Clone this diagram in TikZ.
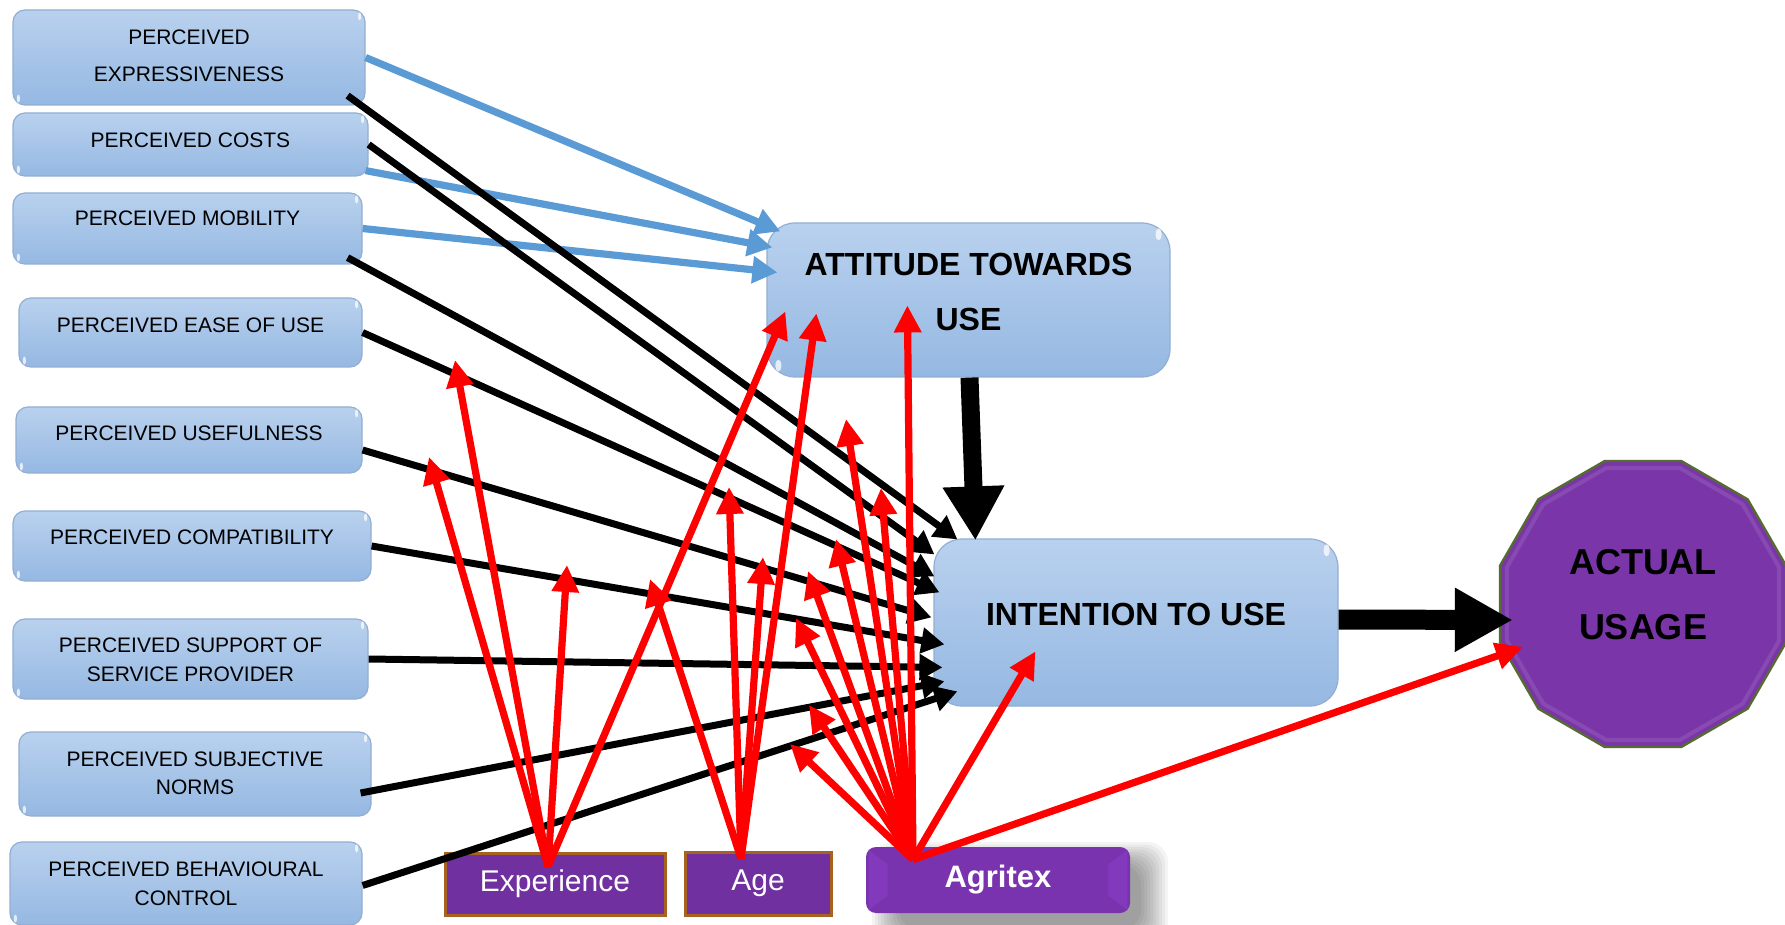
\documentclass[tikz,border=0pt]{standalone}
\usepackage{fontspec}
\setmainfont{Liberation Sans}
\usetikzlibrary{arrows.meta,shapes.geometric,calc}

\definecolor{boxtop}{HTML}{B9D1EE}
\definecolor{boxbot}{HTML}{95B8E2}
\definecolor{boxline}{HTML}{93AED3}
\definecolor{arrblue}{HTML}{5B9BD5}
\definecolor{modfill}{HTML}{7030A0}
\definecolor{modborder}{HTML}{A8621F}
\definecolor{agtop}{HTML}{C562FF}
\definecolor{agmid}{HTML}{7A33AE}
\definecolor{agbot}{HTML}{A04CE4}
\definecolor{agend}{HTML}{8A3EC6}
\definecolor{usefill}{HTML}{7A36A9}
\definecolor{useline}{HTML}{556B2F}

\pgfdeclareverticalshading{agritexshade}{100bp}{%
  color(0bp)=(agbot); color(12bp)=(agmid); color(80bp)=(agmid); color(100bp)=(agtop)}

\tikzset{
  pbox/.style={draw=boxline, line width=0.6pt, rounded corners=6pt,
    top color=boxtop, bottom color=boxbot, inner sep=0pt},
  bigbox/.style={pbox, rounded corners=14pt},
  plabel/.style={font=\fontsize{10.5}{14.25}\selectfont, align=center, inner sep=0pt},
  biglabel/.style={font=\fontsize{16}{27.5}\selectfont\bfseries, align=center, inner sep=0pt},
  bluearr/.style={draw=arrblue, line width=3.6pt, -{Triangle[length=12.5pt,width=13pt]}},
  blkarr/.style={draw=black, line width=3.5pt, -{Triangle[length=11.5pt,width=12.5pt]}},
  redarr/.style={draw=red, line width=3.6pt, -{Triangle[length=13.5pt,width=13pt]}},
  modbox/.style={draw=modborder, line width=1.5pt, fill=modfill, text=white,
    font=\fontsize{15}{18}\selectfont, inner sep=0pt},
  glint/.style={fill=white, opacity=0.75},
}

% rounded blue box given its corners in pixel units
\newcommand\leftbox[5]{%
  \pgfmathsetmacro\pbW{(#4-#2)*0.5}%
  \pgfmathsetmacro\pbH{(#5-#3)*0.5}%
  \node[pbox, minimum width=\pbW pt, minimum height=\pbH pt] (#1) at ({(#2+#4)/2},{(#3+#5)/2}) {};
  \fill[glint] ($(#1.north east)+(-6,7)$) ellipse [x radius=1.6, y radius=4];
  \fill[glint] ($(#1.south west)+(6,-7)$) ellipse [x radius=1.6, y radius=4];
}

\begin{document}
\begin{tikzpicture}[x=0.5pt,y=-0.5pt]
\useasboundingbox (0,0) rectangle (1785,925);
\fill[white] (0,0) rectangle (1785,925);

% --- determinant boxes
\leftbox{expr}{13}{10}{365}{105}
\leftbox{costs}{13}{113}{368}{176}
\leftbox{mob}{13}{193}{362}{264}
\leftbox{ease}{19}{298}{362}{367}
\leftbox{useful}{16}{407}{362}{473}
\leftbox{compat}{13}{511}{371}{581}
\leftbox{support}{13}{619}{368}{699}
\leftbox{norms}{19}{732}{371}{816}
\leftbox{behav}{10}{842}{362}{925}

\node[plabel, font=\fontsize{10.5}{18.2}\selectfont] (expr-t) at ($(expr)+(0,-1.7)$) {PERCEIVED\\EXPRESSIVENESS};
\node[plabel] (costs-t) at ($(costs)+(0,-4.5)$) {PERCEIVED COSTS};
\node[plabel] (mob-t) at ($(mob)+(0,-10)$) {PERCEIVED MOBILITY};
\node[plabel] (ease-t) at ($(ease)+(0,-7)$) {PERCEIVED EASE OF USE};
\node[plabel] (useful-t) at ($(useful)+(0,-6.3)$) {PERCEIVED USEFULNESS};
\node[plabel] (compat-t) at ($(compat)+(0,-9)$) {PERCEIVED COMPATIBILITY};
\node[plabel] (support-t) at ($(support)+(0,0.8)$) {PERCEIVED SUPPORT OF\\SERVICE PROVIDER};
\node[plabel] (norms-t) at ($(norms)+(0,-0.5)$) {PERCEIVED SUBJECTIVE\\NORMS};
\node[plabel] (behav-t) at ($(behav)+(0,0.5)$) {PERCEIVED BEHAVIOURAL\\CONTROL};

% --- attitude and intention
\node[bigbox, minimum width=201.5pt, minimum height=77pt] (att) at (968.5,300) {};
\fill[glint] ($(att.north east)+(-12,12)$) ellipse [x radius=3, y radius=6];
\fill[glint] ($(att.south west)+(12,-12)$) ellipse [x radius=3, y radius=6];
\node[biglabel] (att-t) at ($(att)+(0,-8.5)$) {ATTITUDE TOWARDS\\USE};

\node[bigbox, minimum width=202pt, minimum height=83.5pt] (intent) at (1136,622.5) {};
\fill[glint] ($(intent.north east)+(-12,12)$) ellipse [x radius=3, y radius=6];
\fill[glint] ($(intent.south west)+(12,-12)$) ellipse [x radius=3, y radius=6];
\node[biglabel] (intent-t) at ($(intent)+(0,-8.5)$) {INTENTION TO USE};

% --- actual usage
\node[regular polygon, regular polygon sides=12, minimum size=148pt, inner sep=0pt,
      fill=usefill, draw=useline, line width=1.2pt] (actual) at (1643,604) {};
\node[regular polygon, regular polygon sides=12, minimum size=141pt, inner sep=0pt,
      draw=white, draw opacity=0.1, line width=2pt] (actual-bevel) at (1643,604) {};
\node[font=\fontsize{18}{32.5}\selectfont\bfseries, align=center, inner sep=0pt]
      (actual-t) at ($(actual)+(0,-9.5)$) {ACTUAL\\USAGE};

% --- moderators
\node[modbox, minimum width=110pt, minimum height=31pt] (exper) at (555,884) {Experience};
\node[modbox, minimum width=73pt, minimum height=31.5pt] (age) at (758,883.5) {Age};

% soft shadow under the Agritex button
\foreach \k in {0,...,9}
  \fill[black, opacity=0.045, rounded corners=10pt]
    ({872+3*\k},{842+2.5*\k}) rectangle ({1168-3*\k},{952-2.5*\k});
\node[rounded corners=5pt, shading=agritexshade, inner sep=0pt,
      minimum width=132pt, minimum height=33pt] (agritex) at (998,880) {};
% bevelled ends of the button
\fill[agend, opacity=0.55] ($(agritex.north west)+(3,3)$) -- ($(agritex.north west)+(22,18)$)
  -- ($(agritex.south west)+(22,-18)$) -- ($(agritex.south west)+(3,-3)$) -- cycle;
\fill[agend, opacity=0.55] ($(agritex.north east)+(-3,3)$) -- ($(agritex.north east)+(-22,18)$)
  -- ($(agritex.south east)+(-22,-18)$) -- ($(agritex.south east)+(-3,-3)$) -- cycle;
\node[text=white, inner sep=0pt, font=\fontsize{15.5}{18}\selectfont\bfseries] (agritex-t) at (agritex) {Agritex};

% --- free ends of the moderating arrows
\coordinate (m1) at (455,360);
\coordinate (m2) at (429,457);
\coordinate (m3) at (567,565);
\coordinate (m4) at (650,579);
\coordinate (m5) at (729,487);
\coordinate (m6) at (763,557);
\coordinate (m7) at (846,419);
\coordinate (m8) at (881,488);
\coordinate (m9) at (836,539);
\coordinate (m10) at (808,571);
\coordinate (m11) at (796,618);
\coordinate (m12) at (809,705);
\coordinate (m13) at (790,744);

% --- paths into attitude
\draw[bluearr] (expr.east) -- ($(att.north west)+(14,9)$);
\draw[bluearr] ($(costs.south east)+(-3,-6)$) -- ($(att.north west)+(6,25)$);
\draw[bluearr] (mob.east) -- ($(att.north west)+(11,50)$);

% --- paths into intention
\draw[blkarr] ($(expr.south east)+(-18,-10)$) -- ($(intent.north west)+(24,1)$);
\draw[blkarr] (costs.east) -- ($(intent.north west)+(1,16)$);
\draw[blkarr] ($(mob.south east)+(-15,-7)$) -- ($(intent.north west)+(1,38)$);
\draw[blkarr] (ease.east) -- ($(intent.north west)+(6,54)$);
\draw[blkarr] ($(useful.east)+(0,10)$) -- ($(intent.north west)+(-2,79)$);
\draw[blkarr] (compat.east) -- ($(intent.north west)+(11,106)$);
\draw[blkarr] (support.east) -- ($(intent.north west)+(9,129)$);
\draw[blkarr] ($(norms.east)+(-11,19)$) -- ($(intent.north west)+(11,143)$);
\draw[blkarr] ($(behav.east)+(0,2)$) -- ($(intent.north west)+(24,153)$);

% --- moderating effects
\coordinate (e0) at ($(exper.north)+(-7,15)$);
\coordinate (a0) at ($(age.north)+(-17,8)$);
\coordinate (g0) at ($(agritex.north)+(-85,13)$);

\foreach \t in {m1,m2,m3} \draw[redarr] (e0) -- (\t);
\draw[redarr] (e0) -- ($(att.north west)+(19,89)$);
\foreach \t in {m4,m5,m6} \draw[redarr] (a0) -- (\t);
\draw[redarr] (a0) -- ($(att.north west)+(50,91)$);
\foreach \t in {m7,m8,m9,m10,m11,m12,m13} \draw[redarr] (g0) -- (\t);
\draw[redarr] (g0) -- ($(att.north west)+(141,83)$);
\draw[redarr] (g0) -- ($(intent.north west)+(102,113)$);
\draw[redarr] (g0) -- ($(actual.west)+(24,43)$);

% --- main path
\draw[line width=9pt, -{Triangle[length=27pt,width=29pt]}]
  ($(att.south)+(1,0)$) -- ($(intent.north west)+(42,2)$);
\draw[line width=10pt, -{Triangle[length=29pt,width=30pt]}]
  ($(intent.east)+(0,-3)$) -- ($(actual.west)+(14,16)$);
\end{tikzpicture}
\end{document}
